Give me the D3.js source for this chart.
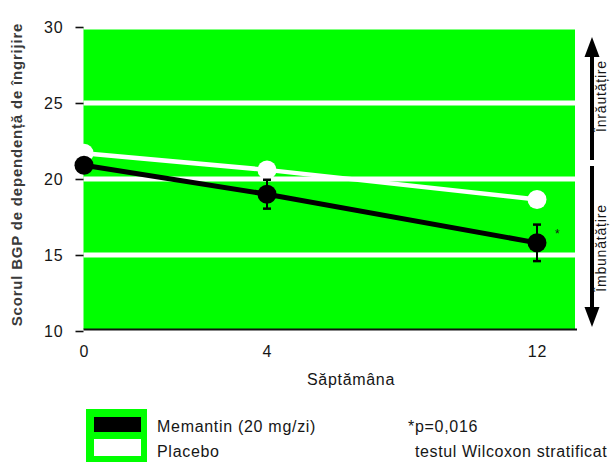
<!DOCTYPE html>
<html>
<head>
<meta charset="utf-8">
<script src="https://cdn.jsdelivr.net/npm/d3@7"></script>
<style>
  html, body { margin: 0; padding: 0; background: #fff; }
  svg { display: block; }
  text { font-family: "Liberation Sans", Arial, sans-serif; fill: #161616; }
</style>
</head>
<body>
<svg id="chart" width="610" height="462"></svg>
<script>
// Weeks of treatment and mean BGP care-dependency scores
const weeks = [0, 4, 12];
const weekLabels = ["0", "4", "12"];
const memantin = [20.9, 19.0, 15.8];
const memantinErr = [0, 0.95, 1.2];
const placebo = [21.7, 20.6, 18.65];
const yTicks = [10, 15, 20, 25, 30];
const seriesNames = ["Memantin (20 mg/zi)", "Placebo"];
const noteLines = ["*p=0,016", "testul Wilcoxon stratificat"];
const sideLabels = ["Înrăutățire", "Îmbunătățire"];

const GREEN = "#00ff00";
const svg = d3.select("#chart");

// Week axis is spaced unevenly, so the scale is piecewise linear
const x = d3.scaleLinear().domain(weeks).range([84, 267, 537]);
const y = d3.scaleLinear().domain([10, 30]).range([331, 27]);

const plotLeft = 83.5, plotRight = 575;

// green plotting area
svg.append("rect")
  .attr("x", plotLeft).attr("y", y(30))
  .attr("width", plotRight - plotLeft).attr("height", y(10) - y(30) - 2)
  .attr("fill", GREEN);

// white horizontal grid bands
svg.append("g").selectAll("line").data(yTicks.filter(d => d > 10)).join("line")
  .attr("x1", plotLeft).attr("x2", plotRight)
  .attr("y1", d => y(d)).attr("y2", d => y(d))
  .attr("stroke", "#fff").attr("stroke-width", 5);

// y axis: short ticks and numbers, no spine
const yAxis = svg.append("g").attr("transform", `translate(${plotLeft},0)`)
  .call(d3.axisLeft(y).tickValues(yTicks).tickSize(8).tickPadding(12));
yAxis.select(".domain").remove();
yAxis.selectAll(".tick line").attr("stroke", "#111").attr("stroke-width", 1.6);
yAxis.selectAll(".tick text")
  .style("font-family", "'Liberation Sans', Arial, sans-serif")
  .style("font-size", "16px").style("letter-spacing", "0.9px").attr("fill", "#161616");

// x axis baseline with week labels
const xAxis = svg.append("g").attr("transform", `translate(0,${y(10) - 1.5})`)
  .call(d3.axisBottom(x).tickValues(weeks).tickFormat((d, i) => weekLabels[i]).tickSize(0).tickPadding(16));
xAxis.select(".domain").attr("d", `M${plotLeft},0H577`).attr("stroke", "#111").attr("stroke-width", 2);
xAxis.selectAll(".tick text")
  .style("font-family", "'Liberation Sans', Arial, sans-serif")
  .style("font-size", "16px").style("letter-spacing", "0.9px").attr("fill", "#161616");

// axis titles
svg.append("text")
  .attr("x", 351).attr("y", 385).attr("text-anchor", "middle")
  .style("font-size", "16px").style("letter-spacing", "0.7px")
  .text("Săptămâna");

svg.append("text")
  .attr("transform", `translate(22,${(22 + 327) / 2}) rotate(-90)`)
  .attr("text-anchor", "middle")
  .style("font-size", "15px").style("font-weight", "bold").style("letter-spacing", "0.8px")
  .style("fill", "#3a3a3a")
  .text("Scorul BGP de dependență de îngrijire");

const line = d3.line().x((d, i) => x(weeks[i])).y(d => y(d));

// placebo series (white)
svg.append("path").datum(placebo)
  .attr("d", line).attr("fill", "none")
  .attr("stroke", "#fff").attr("stroke-width", 4.5);
svg.append("g").selectAll("circle").data(placebo).join("circle")
  .attr("cx", (d, i) => x(weeks[i])).attr("cy", d => y(d)).attr("r", 9.5)
  .attr("fill", "#fff");

// memantin series (black) with error bars
svg.append("path").datum(memantin)
  .attr("d", line).attr("fill", "none")
  .attr("stroke", "#000").attr("stroke-width", 5);

const eb = svg.append("g").attr("stroke", "#000");
memantin.forEach((v, i) => {
  const e = memantinErr[i];
  if (!e) return;
  const cx = x(weeks[i]);
  eb.append("line").attr("x1", cx).attr("x2", cx)
    .attr("y1", y(v + e)).attr("y2", y(v - e)).attr("stroke-width", 2);
  [v + e, v - e].forEach(b => {
    eb.append("line").attr("x1", cx - 4).attr("x2", cx + 4)
      .attr("y1", y(b)).attr("y2", y(b)).attr("stroke-width", 2.5);
  });
});

svg.append("g").selectAll("circle").data(memantin).join("circle")
  .attr("cx", (d, i) => x(weeks[i])).attr("cy", d => y(d)).attr("r", 9.5)
  .attr("fill", "#000");

// significance mark at week 12
svg.append("text")
  .attr("x", x(12) + 18).attr("y", y(memantin[2]) - 5)
  .style("font-size", "12px").text("*");

// direction arrows on the right
const ax = 592;
const arrows = svg.append("g");
arrows.append("line").attr("x1", ax).attr("x2", ax).attr("y1", 160).attr("y2", 50)
  .attr("stroke", "#000").attr("stroke-width", 4);
arrows.append("path").attr("d", `M${ax},37L${ax - 7.5},57L${ax + 7.5},57Z`).attr("fill", "#000");
arrows.append("line").attr("x1", ax).attr("x2", ax).attr("y1", 166).attr("y2", 314)
  .attr("stroke", "#000").attr("stroke-width", 4);
arrows.append("path").attr("d", `M${ax},327L${ax - 7.5},307L${ax + 7.5},307Z`).attr("fill", "#000");

svg.append("text")
  .attr("transform", "translate(606,96) rotate(-90)").attr("text-anchor", "middle")
  .style("font-size", "14px").style("letter-spacing", "0.8px")
  .text(sideLabels[0]);
svg.append("text")
  .attr("transform", "translate(606,248) rotate(-90)").attr("text-anchor", "middle")
  .style("font-size", "14px").style("letter-spacing", "0.8px")
  .text(sideLabels[1]);

// legend
const legend = svg.append("g");
legend.append("rect").attr("x", 86).attr("y", 409).attr("width", 61).attr("height", 60).attr("fill", GREEN);
legend.append("rect").attr("x", 94).attr("y", 417).attr("width", 47).attr("height", 15).attr("fill", "#000");
legend.append("rect").attr("x", 94).attr("y", 439).attr("width", 47).attr("height", 17).attr("fill", "#fff");
legend.selectAll("text.series").data(seriesNames).join("text")
  .attr("class", "series")
  .attr("x", 157).attr("y", (d, i) => 432 + i * 25)
  .style("font-size", "16px").style("letter-spacing", "0.7px")
  .text(d => d);

// statistical note
svg.append("text").attr("x", 408).attr("y", 432)
  .style("font-size", "16px").style("letter-spacing", "0.7px").text(noteLines[0]);
svg.append("text").attr("x", 415).attr("y", 457)
  .style("font-size", "16px").style("letter-spacing", "0.6px").text(noteLines[1]);
</script>
</body>
</html>
